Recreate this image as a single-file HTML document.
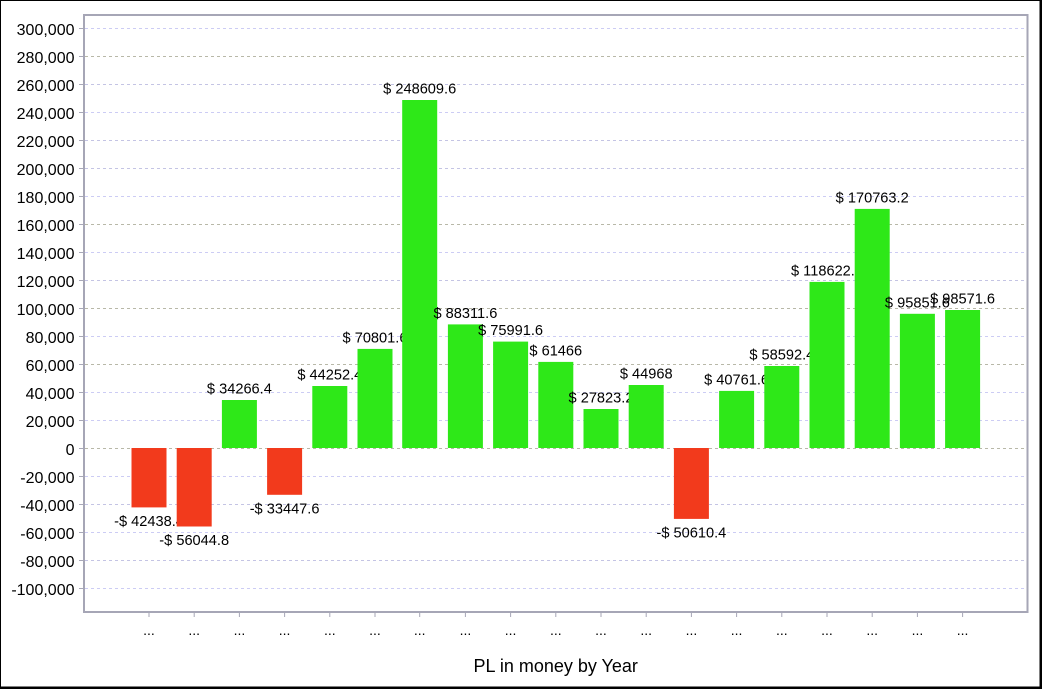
<!DOCTYPE html>
<html><head><meta charset="utf-8"><style>
html,body{margin:0;padding:0;background:#fff;}
svg{display:block;}
text{font-family:"Liberation Sans",Arial,sans-serif;fill:#000;}
</style></head><body>
<svg width="1042" height="689" viewBox="0 0 1042 689" xmlns="http://www.w3.org/2000/svg">
<rect x="0" y="0" width="1042" height="689" fill="#fff"/>
<!-- outer border -->
<rect x="0.5" y="0.5" width="1039.5" height="686.5" fill="none" stroke="#000" stroke-width="1"/>
<line x1="1041" y1="0" x2="1041" y2="689" stroke="#000" stroke-width="2"/>
<line x1="0" y1="688" x2="1042" y2="688" stroke="#000" stroke-width="2"/>
<g id="grid" stroke-width="1" stroke-dasharray="3,3">
<line x1="85" y1="28.5" x2="1027" y2="28.5" stroke="#ccccf4"/>
<line x1="85" y1="56.5" x2="1027" y2="56.5" stroke="#b8b8a8"/>
<line x1="85" y1="84.5" x2="1027" y2="84.5" stroke="#c4c4e4"/>
<line x1="85" y1="112.5" x2="1027" y2="112.5" stroke="#ccccf4"/>
<line x1="85" y1="140.5" x2="1027" y2="140.5" stroke="#c4c4e4"/>
<line x1="85" y1="168.5" x2="1027" y2="168.5" stroke="#c4c4e4"/>
<line x1="85" y1="196.5" x2="1027" y2="196.5" stroke="#ccccf4"/>
<line x1="85" y1="224.5" x2="1027" y2="224.5" stroke="#b8b8a8"/>
<line x1="85" y1="252.5" x2="1027" y2="252.5" stroke="#ccccf4"/>
<line x1="85" y1="280.5" x2="1027" y2="280.5" stroke="#c4c4e4"/>
<line x1="85" y1="308.5" x2="1027" y2="308.5" stroke="#b8b8a8"/>
<line x1="85" y1="336.5" x2="1027" y2="336.5" stroke="#ccccf4"/>
<line x1="85" y1="364.5" x2="1027" y2="364.5" stroke="#b8b8a8"/>
<line x1="85" y1="392.5" x2="1027" y2="392.5" stroke="#ccccf4"/>
<line x1="85" y1="420.5" x2="1027" y2="420.5" stroke="#ccccf4"/>
<line x1="85" y1="448.5" x2="1027" y2="448.5" stroke="#b8b8a8"/>
<line x1="85" y1="476.5" x2="1027" y2="476.5" stroke="#ccccf4"/>
<line x1="85" y1="504.5" x2="1027" y2="504.5" stroke="#c4c4e4"/>
<line x1="85" y1="532.5" x2="1027" y2="532.5" stroke="#ccccf4"/>
<line x1="85" y1="560.5" x2="1027" y2="560.5" stroke="#c4c4e4"/>
<line x1="85" y1="588.5" x2="1027" y2="588.5" stroke="#ccccf4"/>
</g>
<!-- y ticks -->
<g stroke="#a8a8b8" stroke-width="1">
<line x1="79" y1="28.5" x2="83" y2="28.5"/><line x1="79" y1="56.5" x2="83" y2="56.5"/><line x1="79" y1="84.5" x2="83" y2="84.5"/><line x1="79" y1="112.5" x2="83" y2="112.5"/><line x1="79" y1="140.5" x2="83" y2="140.5"/><line x1="79" y1="168.5" x2="83" y2="168.5"/><line x1="79" y1="196.5" x2="83" y2="196.5"/><line x1="79" y1="224.5" x2="83" y2="224.5"/><line x1="79" y1="252.5" x2="83" y2="252.5"/><line x1="79" y1="280.5" x2="83" y2="280.5"/><line x1="79" y1="308.5" x2="83" y2="308.5"/><line x1="79" y1="336.5" x2="83" y2="336.5"/><line x1="79" y1="364.5" x2="83" y2="364.5"/><line x1="79" y1="392.5" x2="83" y2="392.5"/><line x1="79" y1="420.5" x2="83" y2="420.5"/><line x1="79" y1="448.5" x2="83" y2="448.5"/><line x1="79" y1="476.5" x2="83" y2="476.5"/><line x1="79" y1="504.5" x2="83" y2="504.5"/><line x1="79" y1="532.5" x2="83" y2="532.5"/><line x1="79" y1="560.5" x2="83" y2="560.5"/><line x1="79" y1="588.5" x2="83" y2="588.5"/>
</g>
<g font-size="16" text-anchor="end">
<text x="74.5" y="35">300,000</text>
<text x="74.5" y="63">280,000</text>
<text x="74.5" y="91">260,000</text>
<text x="74.5" y="119">240,000</text>
<text x="74.5" y="147">220,000</text>
<text x="74.5" y="175">200,000</text>
<text x="74.5" y="203">180,000</text>
<text x="74.5" y="231">160,000</text>
<text x="74.5" y="259">140,000</text>
<text x="74.5" y="287">120,000</text>
<text x="74.5" y="315">100,000</text>
<text x="74.5" y="343">80,000</text>
<text x="74.5" y="371">60,000</text>
<text x="74.5" y="399">40,000</text>
<text x="74.5" y="427">20,000</text>
<text x="74.5" y="455">0</text>
<text x="74.5" y="483">-20,000</text>
<text x="74.5" y="511">-40,000</text>
<text x="74.5" y="539">-60,000</text>
<text x="74.5" y="567">-80,000</text>
<text x="74.5" y="595">-100,000</text>
</g>
<!-- bars and labels -->
<g font-size="14.6" text-anchor="middle">
<rect x="131.5" y="448" width="35" height="59.4" fill="#f23a1c"/>
<text x="149" y="526">-$ 42438.4</text>
<rect x="176.7" y="448" width="35" height="78.5" fill="#f23a1c"/>
<text x="194.2" y="545">-$ 56044.8</text>
<rect x="221.9" y="400" width="35" height="48" fill="#2ee818"/>
<text x="239.4" y="393.5">$ 34266.4</text>
<rect x="267.1" y="448" width="35" height="46.8" fill="#f23a1c"/>
<text x="284.6" y="513.3">-$ 33447.6</text>
<rect x="312.3" y="386" width="35" height="62" fill="#2ee818"/>
<text x="329.8" y="379.5">$ 44252.4</text>
<rect x="357.5" y="348.9" width="35" height="99.1" fill="#2ee818"/>
<text x="375" y="342.4">$ 70801.6</text>
<rect x="402.2" y="100" width="35" height="348" fill="#2ee818"/>
<text x="419.7" y="93.5">$ 248609.6</text>
<rect x="447.9" y="324.4" width="35" height="123.6" fill="#2ee818"/>
<text x="465.4" y="317.9">$ 88311.6</text>
<rect x="493.1" y="341.6" width="35" height="106.4" fill="#2ee818"/>
<text x="510.6" y="335.1">$ 75991.6</text>
<rect x="538.3" y="361.9" width="35" height="86.1" fill="#2ee818"/>
<text x="555.8" y="355.4">$ 61466</text>
<rect x="583.5" y="409" width="35" height="39" fill="#2ee818"/>
<text x="601" y="402.5">$ 27823.2</text>
<rect x="628.7" y="385" width="35" height="63" fill="#2ee818"/>
<text x="646.2" y="378.5">$ 44968</text>
<rect x="673.9" y="448" width="35" height="70.9" fill="#f23a1c"/>
<text x="691.4" y="537.4">-$ 50610.4</text>
<rect x="719.1" y="390.9" width="35" height="57.1" fill="#2ee818"/>
<text x="736.6" y="384.4">$ 40761.6</text>
<rect x="764.3" y="366" width="35" height="82" fill="#2ee818"/>
<text x="781.8" y="359.5">$ 58592.4</text>
<rect x="809.5" y="281.9" width="35" height="166.1" fill="#2ee818"/>
<text x="827" y="275.4">$ 118622.4</text>
<rect x="854.7" y="208.9" width="35" height="239.1" fill="#2ee818"/>
<text x="872.2" y="202.4">$ 170763.2</text>
<rect x="899.9" y="313.8" width="35" height="134.2" fill="#2ee818"/>
<text x="917.4" y="307.3">$ 95851.6</text>
<rect x="945.1" y="310" width="35" height="138" fill="#2ee818"/>
<text x="962.6" y="303.5">$ 98571.6</text>
</g>
<!-- plot frame -->
<rect x="84" y="15" width="943.5" height="597" fill="none" stroke="#a6a6b6" stroke-width="2"/>
<!-- x ticks -->
<g stroke="#a6a6b6" stroke-width="1">
<line x1="149" y1="613" x2="149" y2="617"/><line x1="194.2" y1="613" x2="194.2" y2="617"/><line x1="239.4" y1="613" x2="239.4" y2="617"/><line x1="284.6" y1="613" x2="284.6" y2="617"/><line x1="329.8" y1="613" x2="329.8" y2="617"/><line x1="375" y1="613" x2="375" y2="617"/><line x1="419.7" y1="613" x2="419.7" y2="617"/><line x1="465.4" y1="613" x2="465.4" y2="617"/><line x1="510.6" y1="613" x2="510.6" y2="617"/><line x1="555.8" y1="613" x2="555.8" y2="617"/><line x1="601" y1="613" x2="601" y2="617"/><line x1="646.2" y1="613" x2="646.2" y2="617"/><line x1="691.4" y1="613" x2="691.4" y2="617"/><line x1="736.6" y1="613" x2="736.6" y2="617"/><line x1="781.8" y1="613" x2="781.8" y2="617"/><line x1="827" y1="613" x2="827" y2="617"/><line x1="872.2" y1="613" x2="872.2" y2="617"/><line x1="917.4" y1="613" x2="917.4" y2="617"/><line x1="962.6" y1="613" x2="962.6" y2="617"/>
</g>
<g font-size="14" text-anchor="middle">
<text x="149" y="635">...</text><text x="194.2" y="635">...</text><text x="239.4" y="635">...</text><text x="284.6" y="635">...</text><text x="329.8" y="635">...</text><text x="375" y="635">...</text><text x="419.7" y="635">...</text><text x="465.4" y="635">...</text><text x="510.6" y="635">...</text><text x="555.8" y="635">...</text><text x="601" y="635">...</text><text x="646.2" y="635">...</text><text x="691.4" y="635">...</text><text x="736.6" y="635">...</text><text x="781.8" y="635">...</text><text x="827" y="635">...</text><text x="872.2" y="635">...</text><text x="917.4" y="635">...</text><text x="962.6" y="635">...</text>
</g>
<text x="555.7" y="672" font-size="18" text-anchor="middle">PL in money by Year</text>
</svg>
</body></html>
